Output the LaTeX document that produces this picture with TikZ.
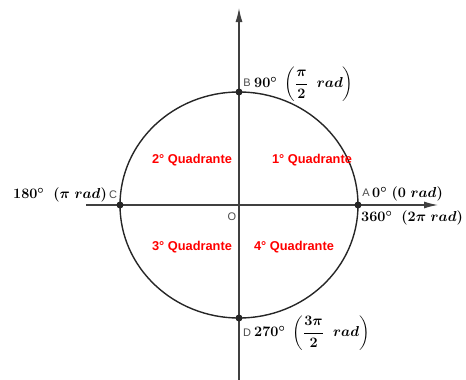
\documentclass[tikz,border=0pt]{standalone}
\usepackage{amsmath}
\usepackage{fontspec}
\newfontfamily\rotfont{Liberation Sans}
\usetikzlibrary{arrows.meta}
\tikzset{
  ponto/.style={circle,fill=black!85,inner sep=0pt,minimum size=7pt},
  letra/.style={font=\rotfont\fontsize{11}{13}\selectfont,text=black!70,inner sep=1pt},
  quadr/.style={font=\rotfont\bfseries\fontsize{12.8}{14}\selectfont,text=red},
  angulo/.style={font=\fontsize{15}{18}\selectfont\boldmath,inner sep=1pt},
  eixo/.style={draw=black!75,line width=1.3pt,-{Latex[length=14pt,width=7pt]}}
}
\begin{document}
\begin{tikzpicture}[x=1pt,y=-1pt]
    \useasboundingbox (0,0) rectangle (466,380);
    % eixos
    \coordinate (O) at (239,205);
    \coordinate (xi) at (86,205);
    \coordinate (xf) at (438,205);
    \coordinate (yi) at (239,380);
    \coordinate (yf) at (239,8);
    \draw[eixo] (xi) -- (xf);
    \draw[eixo] (yi) -- (yf);
    \draw[black!85,line width=1.4pt] (O) ellipse [x radius=119,y radius=113];
    % pontos
    \node[ponto] (A) at (358,205) {};
    \node[ponto] (B) at (239,92)  {};
    \node[ponto] (C) at (120,205) {};
    \node[ponto] (D) at (239,318) {};
    % letras
    \node[letra] (lA) at (366,193) {A};
    \node[letra] (lB) at (247,83)  {B};
    \node[letra] (lC) at (113,195) {C};
    \node[letra] (lD) at (247,333) {D};
    \node[letra] (lO) at (232,217) {O};
    % angulos
    \node[angulo,anchor=west] (a0)   at (371,194) {$0^\circ\ (0\ rad)$};
    \node[angulo,anchor=west] (a360) at (360,218) {$360^\circ\ \ (2\pi\ rad)$};
    \node[angulo,anchor=west] (a90)  at (253,84)  {$90^\circ\ \left(\dfrac{\pi}{2}\ \ rad\right)$};
    \node[angulo,anchor=east] (a180) at (108,195) {$180^\circ\ \ (\pi\ rad)$};
    \node[angulo,anchor=west] (a270) at (253,333) {$270^\circ\ \left(\dfrac{3\pi}{2}\ \ rad\right)$};
    % quadrantes
    \node[quadr] (q1) at (312,160) {1° Quadrante};
    \node[quadr] (q2) at (192,160) {2° Quadrante};
    \node[quadr] (q3) at (192,247) {3° Quadrante};
    \node[quadr] (q4) at (294,247) {4° Quadrante};
\end{tikzpicture}
\end{document}
